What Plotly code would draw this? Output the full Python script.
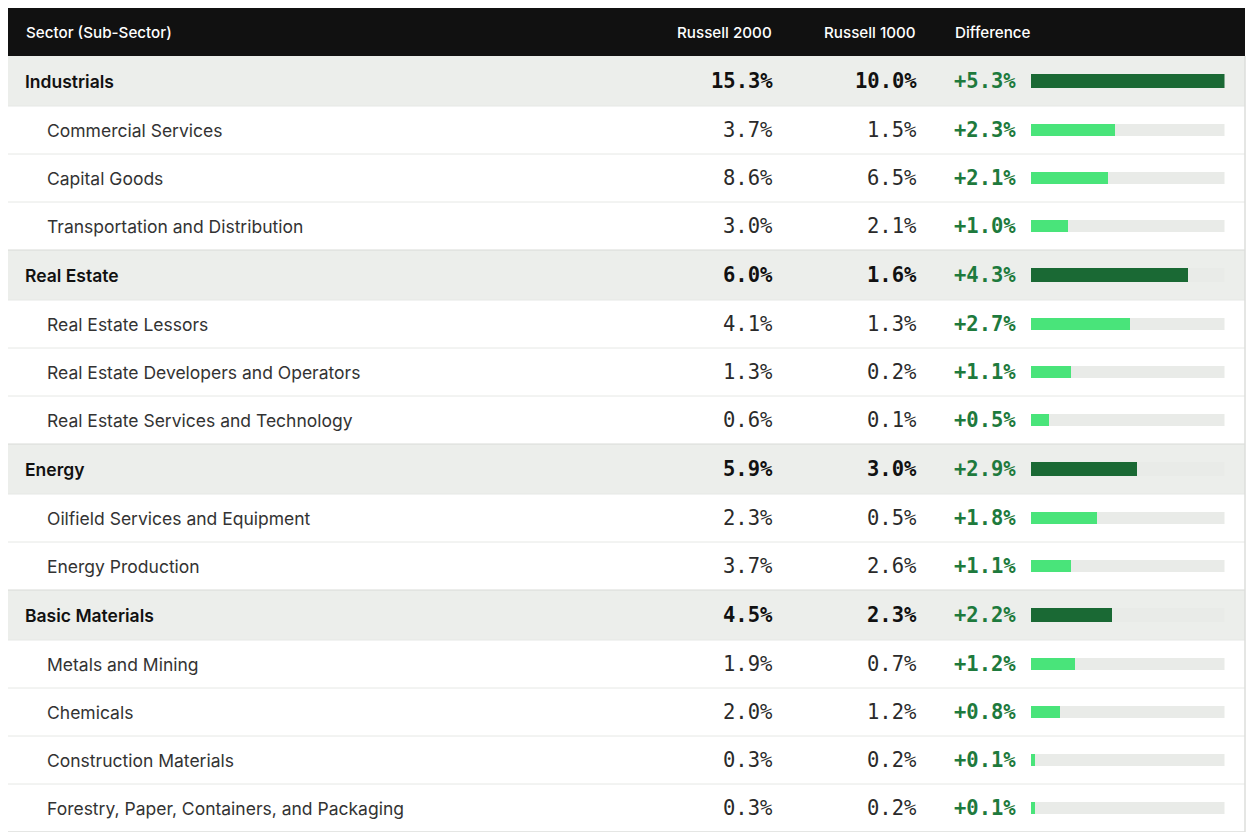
import plotly.graph_objects as go

# table data
labels = ['Industrials', 'Commercial Services', 'Capital Goods', 'Transportation and Distribution',
          'Real Estate', 'Real Estate Lessors', 'Real Estate Developers and Operators',
          'Real Estate Services and Technology',
          'Energy', 'Oilfield Services and Equipment', 'Energy Production',
          'Basic Materials', 'Metals and Mining', 'Chemicals', 'Construction Materials',
          'Forestry, Paper, Containers, and Packaging']
is_sector = [True, False, False, False,
             True, False, False, False,
             True, False, False,
             True, False, False, False, False]
r2000 = [15.3, 3.7, 8.6, 3.0, 6.0, 4.1, 1.3, 0.6, 5.9, 2.3, 3.7, 4.5, 1.9, 2.0, 0.3, 0.3]
r1000 = [10.0, 1.5, 6.5, 2.1, 1.6, 1.3, 0.2, 0.1, 3.0, 0.5, 2.6, 2.3, 0.7, 1.2, 0.2, 0.2]
diff = [5.3, 2.3, 2.1, 1.0, 4.3, 2.7, 1.1, 0.5, 2.9, 1.8, 1.1, 2.2, 1.2, 0.8, 0.1, 0.1]
headers = ['Sector (Sub-Sector)', 'Russell 2000', 'Russell 1000', 'Difference']

# the page body has an 8px margin, so the figure starts 8px in from the corner
OFF = 8
W, H = 1240, 828
HEAD_H, SEC_H, SUB_H = 48, 50, 48

def px(x):
    # page x -> paper fraction
    return (x - OFF) / W

# row geometry (y axis counts pixels down from the top of the table)
tops, bots = [], []
y = HEAD_H
for s in is_sector:
    h = SEC_H if s else SUB_H
    tops.append(y)
    bots.append(y + h)
    y += h
total_h = y
centers = [(a + b) / 2 for a, b in zip(tops, bots)]

DARK = '#1a6934'
LIGHT = '#49e47a'
TRACK = '#e9ebe8'
SEC_BG = '#eceeeb'
GREEN_TXT = '#1e7a3d'
LABEL_FONT = 'Inter'
NUM_FONT = 'DejaVu Sans Mono'

fig = go.Figure()

# grey track behind every bar
fig.add_trace(go.Bar(
    y=centers, x=[max(diff)] * len(diff), orientation='h',
    width=[14 if s else 12 for s in is_sector],
    marker=dict(color=TRACK, line=dict(width=0)),
    hoverinfo='skip', showlegend=False))
fig.add_trace(go.Bar(
    y=centers, x=diff, orientation='h',
    width=[14 if s else 12 for s in is_sector],
    marker=dict(color=[DARK if s else LIGHT for s in is_sector], line=dict(width=0)),
    showlegend=False))

x0p, x1p = px(5), px(1245)
shapes = []
# header band
shapes.append(dict(type='rect', xref='paper', yref='y', x0=x0p, x1=x1p,
                   y0=0, y1=HEAD_H, fillcolor='#111111', line=dict(width=0), layer='below'))
for i, s in enumerate(is_sector):
    if s:
        shapes.append(dict(type='rect', xref='paper', yref='y', x0=x0p, x1=x1p,
                           y0=tops[i], y1=bots[i], fillcolor=SEC_BG, line=dict(width=0),
                           layer='below'))
    if i > 0:
        col = '#d8dad7' if s else '#e6e8e5'
        shapes.append(dict(type='line', xref='paper', yref='y', x0=x0p, x1=x1p,
                           y0=tops[i], y1=tops[i], line=dict(color=col, width=1), layer='below'))
# outer border
shapes.append(dict(type='line', xref='paper', yref='y', x0=x0p, x1=x1p,
                   y0=total_h, y1=total_h, line=dict(color='#dcdedb', width=1.5)))
for xb in (x0p, x1p):
    shapes.append(dict(type='line', xref='paper', yref='y', x0=xb, x1=xb,
                       y0=HEAD_H, y1=total_h, line=dict(color='#dcdedb', width=1.5)))

ann = []
hdr_x = [(24, 'left'), (774, 'right'), (918, 'right'), (953, 'left')]
for t, (x, a) in zip(headers, hdr_x):
    ann.append(dict(text=t, x=px(x), y=HEAD_H / 2, xref='paper', yref='y', xanchor=a,
                    yanchor='middle', showarrow=False,
                    font=dict(family=LABEL_FONT, size=15.2, color='white', weight=500)))

for i, lab in enumerate(labels):
    s = is_sector[i]
    ann.append(dict(text=lab, x=px(23 if s else 45), y=centers[i], xref='paper', yref='y',
                    xanchor='left', yanchor='middle', showarrow=False,
                    font=dict(family=LABEL_FONT, size=17.5,
                              color='#111111' if s else '#333333',
                              weight=600 if s else 400)))
    for val, x in ((r2000[i], 775), (r1000[i], 919)):
        ann.append(dict(text=f'{val:.1f}%', x=px(x), y=centers[i], xref='paper', yref='y',
                        xanchor='right', yanchor='middle', showarrow=False,
                        font=dict(family=NUM_FONT, size=20.5,
                                  color='#111111' if s else '#2a2a2a',
                                  weight='bold' if s else 'normal')))
    ann.append(dict(text=f'+{diff[i]:.1f}%', x=px(952), y=centers[i], xref='paper', yref='y',
                    xanchor='left', yanchor='middle', showarrow=False,
                    font=dict(family=NUM_FONT, size=20.5, color=GREEN_TXT, weight='bold')))

fig.update_layout(
    width=W, height=H,
    margin=dict(l=0, r=0, t=0, b=H - total_h),
    paper_bgcolor='white', plot_bgcolor='white',
    barmode='overlay', bargap=0,
    xaxis=dict(domain=[px(1030.5), px(1224.5)], range=[0, max(diff)], visible=False,
               fixedrange=True),
    yaxis=dict(range=[total_h, 0], visible=False, fixedrange=True),
    shapes=shapes, annotations=ann,
)

fig.write_html('out.html')
